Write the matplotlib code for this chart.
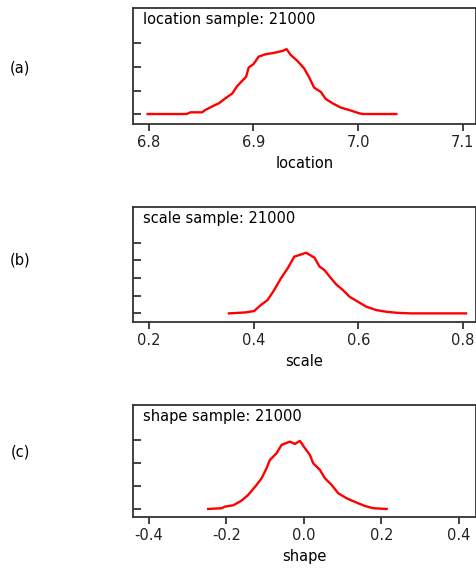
import numpy as np
import matplotlib.pyplot as plt

plt.rcParams['font.family'] = ['DejaVu Sans']

# posterior density outlines
loc_x = [6.799, 6.836, 6.840, 6.851, 6.854, 6.862, 6.867, 6.873, 6.880, 6.884,
         6.889, 6.893, 6.8955, 6.900, 6.905, 6.9115, 6.9195, 6.9276, 6.9317,
         6.9356, 6.942, 6.9484, 6.953, 6.958, 6.9644, 6.969, 6.9757, 6.9837,
         6.9916, 7.001, 7.0045, 7.0365]
loc_y = [0.0, 0.0, 0.36, 0.36, 0.85, 1.77, 2.27, 3.3, 4.4, 5.8,
         7.0, 7.9, 9.9, 10.6, 12.2, 12.7, 13.0, 13.4, 13.8,
         12.55, 11.3, 9.7, 7.9, 5.6, 4.7, 3.2, 2.27, 1.34,
         0.85, 0.15, 0.0, 0.0]

scale_x = [0.3525, 0.3846, 0.4006, 0.4135, 0.4263, 0.439, 0.4519, 0.4648, 0.4775,
           0.4871, 0.500, 0.516, 0.5256, 0.535, 0.548, 0.5577, 0.5706, 0.5833,
           0.5994, 0.6154, 0.6346, 0.654, 0.673, 0.700, 0.806]
scale_y = [0.0, 0.11, 0.26, 0.94, 1.5, 2.63, 3.95, 5.08, 6.4,
           6.59, 6.85, 6.3, 5.3, 4.9, 3.95, 3.28, 2.63, 1.88,
           1.31, 0.75, 0.37, 0.18, 0.07, 0.0, 0.0]

shape_x = [-0.247, -0.2124, -0.204, -0.182, -0.161, -0.1437, -0.122, -0.109,
           -0.0963, -0.0877, -0.0705, -0.0575, -0.036, -0.0232, -0.0103, 0.0026,
           0.0155, 0.024, 0.0413, 0.0542, 0.0715, 0.0885, 0.110, 0.136, 0.1574,
           0.179, 0.2135]
shape_y = [0.0, 0.06, 0.2, 0.32, 0.72, 1.22, 2.09, 2.67,
           3.54, 4.26, 4.84, 5.57, 5.85, 5.65, 5.91, 5.28,
           4.7, 3.97, 3.39, 2.67, 2.09, 1.37, 0.93, 0.55, 0.26,
           0.06, 0.0]

panels = [
    # x, y, name, tag, xlim, xticks, ylim, yticks, rect
    (loc_x, loc_y, 'location', '(a)', (6.785, 7.1125), [6.8, 6.9, 7.0, 7.1],
     (-2.13, 22.55), [0, 5, 10, 15], [0.2788, 0.782, 0.719, 0.204]),
    (scale_x, scale_y, 'scale', '(b)', (0.169, 0.825), [0.2, 0.4, 0.6, 0.8],
     (-0.98, 12.0), [0, 2, 4, 6, 8], [0.2788, 0.434, 0.719, 0.202]),
    (shape_x, shape_y, 'shape', '(c)', (-0.441, 0.444), [-0.4, -0.2, 0.0, 0.2, 0.4],
     (-0.7, 9.04), [0, 2, 4, 6], [0.2788, 0.0914, 0.719, 0.197]),
]

fig = plt.figure(figsize=(4.77, 5.69), dpi=100)
tag_y = [68, 260, 452]

for (x, y, name, tag, xl, xt, yl, yt, rect), ty in zip(panels, tag_y):
    ax = fig.add_axes(rect)
    ax.plot(x, y, color='red', lw=1.7)
    ax.set_xlim(*xl)
    ax.set_ylim(*yl)
    ax.set_xticks(xt)
    ax.set_xticklabels(['%.1f' % v for v in xt])
    ax.set_yticks(yt)
    ax.set_yticklabels([])
    ax.tick_params(axis='x', direction='out', length=5, width=1.2,
                   labelsize=10.5, colors='#222222', pad=3)
    ax.tick_params(axis='y', direction='in', length=6, width=1.2, colors='#222222')
    for s in ax.spines.values():
        s.set_linewidth(1.3)
        s.set_color('#333333')
    ax.set_xlabel(name, fontsize=10.5, labelpad=4)
    ax.text(0.028, 0.9, name + ' sample: 21000', transform=ax.transAxes,
            fontsize=10.5, va='center', ha='left')
    fig.text(20 / 477, 1 - ty / 569, tag, fontsize=10.5,
             ha='center', va='center')

fig.savefig('out.png', dpi=100)
